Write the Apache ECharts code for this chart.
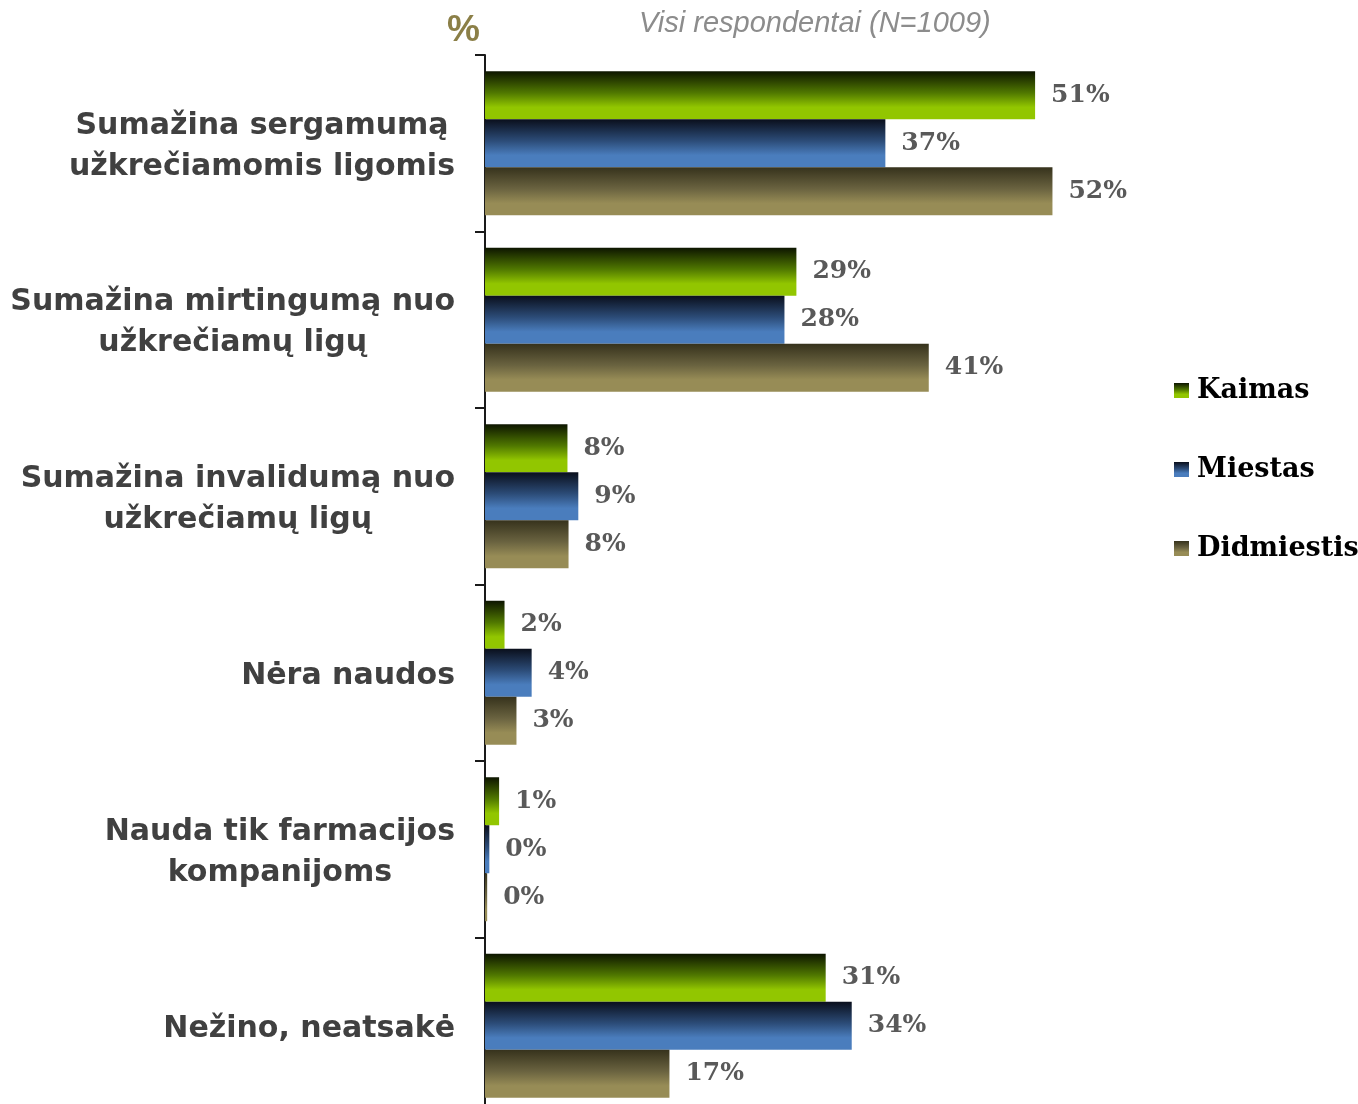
<!DOCTYPE html>
<html>
<head>
<meta charset="utf-8">
<script src="https://cdn.jsdelivr.net/npm/echarts@6/dist/echarts.min.js"></script>
<style>
  html, body { margin: 0; padding: 0; background: #fff; }
  #chart { width: 1358px; height: 1104px; }
</style>
</head>
<body>
<div id="chart"></div>
<script>
// kategorijos (eilutes skiriamos \n)
const categories = [
    'Sumažina sergamumą\nužkrečiamomis ligomis',
    'Sumažina mirtingumą nuo\nužkrečiamų ligų',
    'Sumažina invalidumą nuo\nužkrečiamų ligų',
    'Nėra naudos',
    'Nauda tik farmacijos\nkompanijoms',
    'Nežino, neatsakė'
];
const seriesNames = ['Kaimas', 'Miestas', 'Didmiestis'];
const kaimas = [50.7, 28.7, 7.6, 1.8, 1.3, 31.4];
const miestas = [36.9, 27.6, 8.6, 4.3, 0.4, 33.8];
const didmiestis = [52.3, 40.9, 7.7, 2.9, 0.2, 17.0];

// gradientas: virsuje tamsu, apacioje sviesu
const grad = function (dark, mid, light) {
    return new echarts.graphic.LinearGradient(0, 0, 0, 1, [
        { offset: 0, color: dark },
        { offset: 0.45, color: mid },
        { offset: 0.75, color: light },
        { offset: 1, color: light }
    ]);
};

const colors = [
    grad('#0d1500', '#507800', '#92c600'),
    grad('#0a0f1c', '#2c4c78', '#4a7dbd'),
    grad('#36321c', '#6a6340', '#978c56')
];

const chart = echarts.init(document.getElementById('chart'));

const barLabel = {
    show: true,
    position: 'right',
    distance: 16,
    fontFamily: 'DejaVu Serif',
    fontWeight: 'bold',
    fontSize: 25,
    color: '#595959',
    formatter: function (p) { return Math.round(p.value) + '%'; }
};

const makeSeries = function (name, data, i) {
    return {
        name: name,
        type: 'bar',
        data: data,
        barWidth: 48,
        barGap: '0%',
        itemStyle: { color: colors[i] },
        label: barLabel
    };
};

const option = {
    animation: false,
    title: [
        {
            text: 'Visi respondentai (N=1009)',
            left: 634,
            top: 4,
            textStyle: {
                fontFamily: 'Liberation Sans',
                fontStyle: 'italic',
                fontWeight: 'normal',
                fontSize: 29,
                color: '#8c8c8c'
            }
        },
        {
            text: '%',
            left: 442,
            top: 7,
            textStyle: {
                fontFamily: 'Liberation Sans',
                fontWeight: 'bold',
                fontSize: 37,
                color: '#8b7f47'
            }
        }
    ],
    legend: {
        orient: 'vertical',
        left: 1169,
        top: 372,
        icon: 'rect',
        itemWidth: 15,
        itemHeight: 15,
        itemGap: 52,
        data: seriesNames,
        textStyle: {
            fontFamily: 'DejaVu Serif',
            fontWeight: 'bold',
            fontSize: 27,
            color: '#000',
            padding: [0, 0, 0, 3]
        }
    },
    grid: {
        left: 485,
        top: 55,
        width: 868,
        height: 1059,
        outerBoundsMode: 'none'
    },
    xAxis: {
        type: 'value',
        min: 0,
        max: 80,
        show: false
    },
    yAxis: {
        type: 'category',
        inverse: true,
        data: categories,
        axisLine: { lineStyle: { color: '#1a1a1a', width: 2 } },
        axisTick: { show: true, length: 10, lineStyle: { color: '#1a1a1a', width: 2 } },
        axisLabel: {
            margin: 30,
            padding: [6, 0, 0, 0],
            formatter: function (v) {
                return v.split('\n').map(function (s) { return '{c|' + s + '}'; }).join('\n');
            },
            rich: {
                c: {
                    align: 'center',
                    fontFamily: 'DejaVu Sans',
                    fontWeight: 'bold',
                    fontSize: 30,
                    lineHeight: 41,
                    color: '#404040'
                }
            }
        }
    },
    series: [
        makeSeries(seriesNames[0], kaimas, 0),
        makeSeries(seriesNames[1], miestas, 1),
        makeSeries(seriesNames[2], didmiestis, 2)
    ]
};

chart.setOption(option);
</script>
</body>
</html>
